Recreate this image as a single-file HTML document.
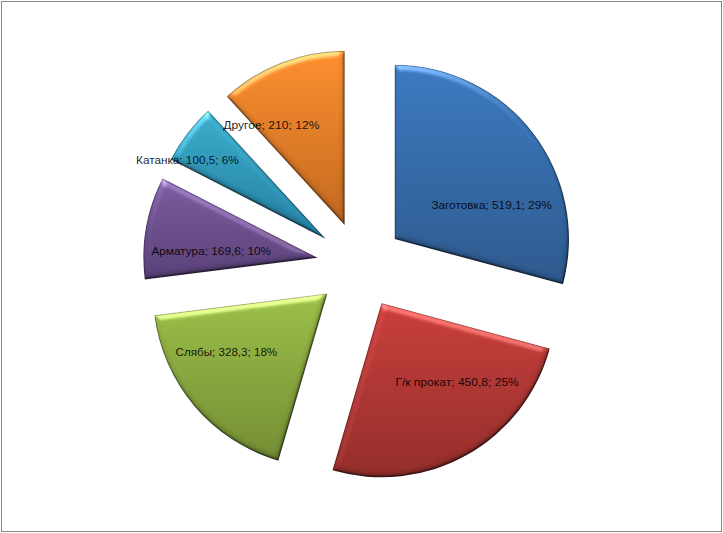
<!DOCTYPE html>
<html><head><meta charset="utf-8"><title>Chart</title>
<style>
html,body{margin:0;padding:0;background:#fff;}
body{width:723px;height:533px;overflow:hidden;position:relative;font-family:"Liberation Sans",sans-serif;}
.frame{position:absolute;left:1px;top:1px;width:719px;height:529px;border:1px solid #868686;background:#fff;}
svg{position:absolute;left:0;top:0;}
text{font-family:"Liberation Sans",sans-serif;font-size:11.7px;fill:#000;fill-opacity:0.88;}
</style></head><body>
<div class="frame"></div>
<svg width="723" height="533" viewBox="0 0 723 533">
<defs><linearGradient id="g0" x1="0" y1="0" x2="0" y2="1"><stop offset="0" stop-color="#3c7ac2"/><stop offset="1" stop-color="#2e5a90"/></linearGradient><linearGradient id="g1" x1="0" y1="0" x2="0" y2="1"><stop offset="0" stop-color="#cb403c"/><stop offset="1" stop-color="#962e2c"/></linearGradient><linearGradient id="g2" x1="0" y1="0" x2="0" y2="1"><stop offset="0" stop-color="#9fc249"/><stop offset="1" stop-color="#748f34"/></linearGradient><linearGradient id="g3" x1="0" y1="0" x2="0" y2="1"><stop offset="0" stop-color="#7d5da3"/><stop offset="1" stop-color="#5a4179"/></linearGradient><linearGradient id="g4" x1="0" y1="0" x2="0" y2="1"><stop offset="0" stop-color="#3cafcd"/><stop offset="1" stop-color="#237fa4"/></linearGradient><linearGradient id="g5" x1="0" y1="0" x2="0" y2="1"><stop offset="0" stop-color="#ff9230"/><stop offset="1" stop-color="#c46820"/></linearGradient><clipPath id="c0"><path d="M394.67 238.97L394.67 64.67A174.3 174.3 0 0 1 562.96 284.33Z"/></clipPath><clipPath id="c1"><path d="M381.48 303.07L549.77 348.43A174.3 174.3 0 0 1 332.42 470.32Z"/></clipPath><clipPath id="c2"><path d="M327.34 293.38L278.28 460.63A174.3 174.3 0 0 1 154.41 315.20Z"/></clipPath><clipPath id="c3"><path d="M317.65 257.80L144.73 279.62A174.3 174.3 0 0 1 162.55 178.28Z"/></clipPath><clipPath id="c4"><path d="M325.86 239.05L170.76 159.54A174.3 174.3 0 0 1 208.08 110.57Z"/></clipPath><clipPath id="c5"><path d="M344.60 224.95L226.82 96.46A174.3 174.3 0 0 1 344.60 50.65Z"/></clipPath>
<filter id="bev" x="-5%" y="-5%" width="110%" height="110%" color-interpolation-filters="sRGB">
<feGaussianBlur in="SourceAlpha" stdDeviation="3.0" result="bl"/>
<feDiffuseLighting in="bl" surfaceScale="5.2" diffuseConstant="1" lighting-color="#fff" result="df"><feDistantLight azimuth="256" elevation="45"/></feDiffuseLighting>
<feComponentTransfer in="df" result="hi0"><feFuncR type="linear" slope="3.3000" intercept="-2.3335"/><feFuncG type="linear" slope="3.3000" intercept="-2.3335"/><feFuncB type="linear" slope="3.3000" intercept="-2.3335"/></feComponentTransfer>
<feComponentTransfer in="hi0" result="hi"><feFuncR type="gamma" amplitude="1" exponent="1.8" offset="0"/><feFuncG type="gamma" amplitude="1" exponent="1.8" offset="0"/><feFuncB type="gamma" amplitude="1" exponent="1.8" offset="0"/></feComponentTransfer>
<feComponentTransfer in="df" result="shw"><feFuncR type="linear" slope="0.2200" intercept="0.8444"/><feFuncG type="linear" slope="0.2200" intercept="0.8444"/><feFuncB type="linear" slope="0.2200" intercept="0.8444"/></feComponentTransfer>
<feGaussianBlur in="SourceAlpha" stdDeviation="1.1" result="bl2"/>
<feDiffuseLighting in="bl2" surfaceScale="2.5" diffuseConstant="1" lighting-color="#fff" result="df2"><feDistantLight azimuth="245" elevation="45"/></feDiffuseLighting>
<feComponentTransfer in="df2" result="shn"><feFuncR type="linear" slope="0.5500" intercept="0.6111"/><feFuncG type="linear" slope="0.5500" intercept="0.6111"/><feFuncB type="linear" slope="0.5500" intercept="0.6111"/></feComponentTransfer>
<feBlend in="SourceGraphic" in2="shw" mode="multiply" result="m1"/>
<feBlend in="m1" in2="shn" mode="multiply" result="m"/>
<feComposite in="m" in2="hi" operator="arithmetic" k1="0" k2="1" k3="0.34" k4="0" result="lit"/>
<feComposite in="lit" in2="SourceAlpha" operator="in"/>
</filter>
</defs>
<path d="M394.67 238.97L394.67 64.67A174.3 174.3 0 0 1 562.96 284.33Z" fill="url(#g0)" filter="url(#bev)"/><path d="M394.67 238.97L394.67 64.67A174.3 174.3 0 0 1 562.96 284.33Z" fill="none" stroke="#000" stroke-opacity="0.3" stroke-width="2" stroke-linejoin="miter" clip-path="url(#c0)"/><path d="M381.48 303.07L549.77 348.43A174.3 174.3 0 0 1 332.42 470.32Z" fill="url(#g1)" filter="url(#bev)"/><path d="M381.48 303.07L549.77 348.43A174.3 174.3 0 0 1 332.42 470.32Z" fill="none" stroke="#000" stroke-opacity="0.3" stroke-width="2" stroke-linejoin="miter" clip-path="url(#c1)"/><path d="M327.34 293.38L278.28 460.63A174.3 174.3 0 0 1 154.41 315.20Z" fill="url(#g2)" filter="url(#bev)"/><path d="M327.34 293.38L278.28 460.63A174.3 174.3 0 0 1 154.41 315.20Z" fill="none" stroke="#000" stroke-opacity="0.3" stroke-width="2" stroke-linejoin="miter" clip-path="url(#c2)"/><path d="M317.65 257.80L144.73 279.62A174.3 174.3 0 0 1 162.55 178.28Z" fill="url(#g3)" filter="url(#bev)"/><path d="M317.65 257.80L144.73 279.62A174.3 174.3 0 0 1 162.55 178.28Z" fill="none" stroke="#000" stroke-opacity="0.3" stroke-width="2" stroke-linejoin="miter" clip-path="url(#c3)"/><path d="M325.86 239.05L170.76 159.54A174.3 174.3 0 0 1 208.08 110.57Z" fill="url(#g4)" filter="url(#bev)"/><path d="M325.86 239.05L170.76 159.54A174.3 174.3 0 0 1 208.08 110.57Z" fill="none" stroke="#000" stroke-opacity="0.3" stroke-width="2" stroke-linejoin="miter" clip-path="url(#c4)"/><path d="M344.60 224.95L226.82 96.46A174.3 174.3 0 0 1 344.60 50.65Z" fill="url(#g5)" filter="url(#bev)"/><path d="M344.60 224.95L226.82 96.46A174.3 174.3 0 0 1 344.60 50.65Z" fill="none" stroke="#000" stroke-opacity="0.3" stroke-width="2" stroke-linejoin="miter" clip-path="url(#c5)"/>
<text x="431.4" y="209.3" textLength="120.3" lengthAdjust="spacingAndGlyphs">Заготовка; 519,1; 29%</text><text x="395.4" y="385.8" textLength="123.4" lengthAdjust="spacingAndGlyphs">Г/к прокат; 450,8; 25%</text><text x="175.6" y="355.8" textLength="101.6" lengthAdjust="spacingAndGlyphs">Слябы; 328,3; 18%</text><text x="151.4" y="254.8" textLength="119.7" lengthAdjust="spacingAndGlyphs">Арматура; 169,6; 10%</text><text x="136.1" y="164.2" textLength="102.6" lengthAdjust="spacingAndGlyphs">Катанка; 100,5; 6%</text><text x="223.2" y="128.8" textLength="96.3" lengthAdjust="spacingAndGlyphs">Другое; 210; 12%</text>
</svg>
</body></html>
